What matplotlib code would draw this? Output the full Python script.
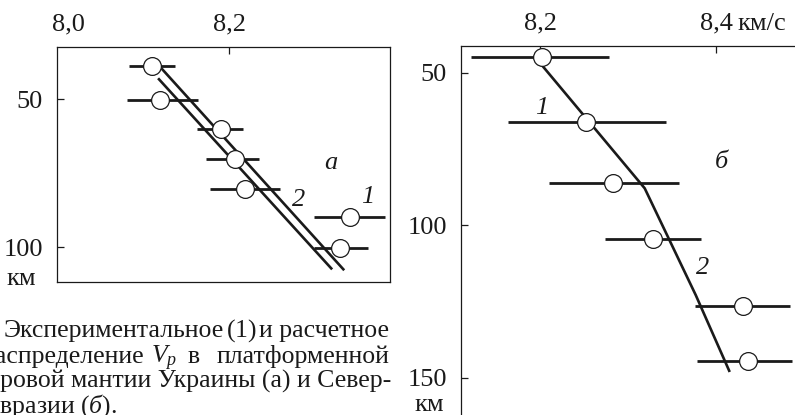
import numpy as np
import matplotlib.pyplot as plt

plt.rcParams['font.family'] = ['Liberation Serif', 'DejaVu Serif']
plt.rcParams['mathtext.fontset'] = 'custom'
plt.rcParams['mathtext.rm'] = 'Liberation Serif'
plt.rcParams['mathtext.it'] = 'Liberation Serif:italic'

W, H = 795, 415
INK = '#1a1a1a'
FS = 19
CAP_FS = 18.5

# panel a: Ukraine
depth_a = [38.9, 50.3, 60.2, 70.4, 80.5, 90.0, 100.4]
vp_a = [8.104, 8.114, 8.190, 8.207, 8.220, 8.350, 8.338]
vp_a_min = [8.076, 8.073, 8.160, 8.171, 8.176, 8.306, 8.306]
vp_a_max = [8.133, 8.161, 8.217, 8.237, 8.263, 8.394, 8.373]
calc_a1_vp = [8.116, 8.342]
calc_a1_depth = [39.6, 107.5]
calc_a2_vp = [8.113, 8.327]
calc_a2_depth = [43.3, 107.2]

# panel b: North Eurasia
depth_b = [44.95, 66.3, 86.1, 104.6, 126.5, 144.4]
vp_b = [8.202, 8.252, 8.283, 8.328, 8.431, 8.436]
vp_b_min = [8.122, 8.164, 8.210, 8.274, 8.376, 8.378]
vp_b_max = [8.278, 8.343, 8.358, 8.383, 8.484, 8.486]
calc_b_vp = [8.202, 8.319, 8.377, 8.415]
calc_b_depth = [47.5, 87.9, 122.9, 147.7]

xticks_a = [8.0, 8.2]
xticklabels_a = ['8,0', '8,2']
yticks_a = [50, 100]
xticks_b = [8.2, 8.4]
xticklabels_b = ['8,2', '8,4']
yticks_b = [50, 100, 150]

caption = [
    'подкоровой мантии Украины (а) и Север-',
    'Евразии ($\\mathit{б}$).',
]


def px_axes(fig, left, top, right, bottom):
    return fig.add_axes([left / W, 1 - bottom / H, (right - left) / W, (bottom - top) / H])


def style_axes(ax, xticks, xlabels, yticks):
    ax.xaxis.tick_top()
    ax.set_xticks(xticks)
    ax.set_xticklabels(xlabels)
    ax.set_yticks(yticks)
    ax.set_yticklabels([str(t) for t in yticks])
    ax.tick_params(axis='x', direction='in', length=5, width=0.9, labelsize=FS, pad=8, colors=INK)
    ax.tick_params(axis='y', direction='in', length=5, width=0.9, labelsize=FS, pad=10, colors=INK)
    for s in ax.spines.values():
        s.set_linewidth(0.9)
        s.set_color(INK)


def draw_points(ax, vp, depth, lo, hi):
    ax.hlines(depth, lo, hi, color=INK, lw=2.0, zorder=3)
    ax.plot(vp, depth, 'o', ms=12.8, mfc='white', mec=INK, mew=0.9, zorder=5)


def ftext(x, y, s, ha='left', size=CAP_FS):
    # place text by pixel position of its baseline
    fig.text(x / W, 1 - y / H, s, fontsize=size, ha=ha, va='baseline', color=INK)


fig = plt.figure(figsize=(W / 100, H / 100), dpi=100)

ax_a = px_axes(fig, 57, 47, 390, 282)
ax_a.set_xlim(7.9863, 8.400)
ax_a.set_ylim(111.8, 32.4)
style_axes(ax_a, xticks_a, xticklabels_a, yticks_a)
ax_a.xaxis.get_major_ticks()[0].tick2line.set_visible(False)
ax_a.plot(calc_a1_vp, calc_a1_depth, color=INK, lw=1.9, zorder=4)
ax_a.plot(calc_a2_vp, calc_a2_depth, color=INK, lw=1.9, zorder=4)
draw_points(ax_a, vp_a, depth_a, vp_a_min, vp_a_max)
ax_a.text(8.327, 71.6, 'a', style='italic', fontsize=FS, ha='center', va='center', color=INK)
ax_a.text(8.287, 84.0, '2', style='italic', fontsize=FS, ha='center', va='center', color=INK)
ax_a.text(8.372, 83.2, '1', style='italic', fontsize=FS, ha='center', va='center', color=INK)

ax_b = px_axes(fig, 461, 46, 795, 415)
ax_b.set_xlim(8.1102, 8.4898)
ax_b.set_ylim(162.2, 41.25)
style_axes(ax_b, xticks_b, xticklabels_b, yticks_b)
ax_b.spines['right'].set_visible(False)
ax_b.spines['bottom'].set_visible(False)
ax_b.plot(calc_b_vp, calc_b_depth, color=INK, lw=1.9, zorder=4)
draw_points(ax_b, vp_b, depth_b, vp_b_min, vp_b_max)
ax_b.text(8.202, 61.7, '1', style='italic', fontsize=FS, ha='center', va='center', color=INK)
ax_b.text(8.406, 79.4, 'б', style='italic', fontsize=FS, ha='center', va='center', color=INK)
ax_b.text(8.385, 114.1, '2', style='italic', fontsize=FS, ha='center', va='center', color=INK)
ax_b.annotate('км/с', xy=(8.425, 1), xycoords=('data', 'axes fraction'),
              xytext=(0, 8), textcoords='offset points', ha='left', va='bottom',
              fontsize=FS, color=INK)

# unit labels under the depth axes
ftext(21, 285, 'км', ha='center', size=FS)
ftext(429, 411, 'км', ha='center', size=FS)

# caption (cut by the image edge as in the source page), justified lines
ftext(4, 337, 'Экспериментальное')
ftext(226, 337, '($\\mathit{1}$)')
ftext(389, 337, 'и расчетное', ha='right')
ftext(144, 363, 'распределение', ha='right')
ftext(151, 363, '$V_p$')
ftext(188, 363, 'в')
ftext(389, 363, 'платформенной', ha='right')
ftext(391, 388, caption[0], ha='right')
ftext(-16, 413, caption[1])

fig.savefig('out.png', dpi=100)
